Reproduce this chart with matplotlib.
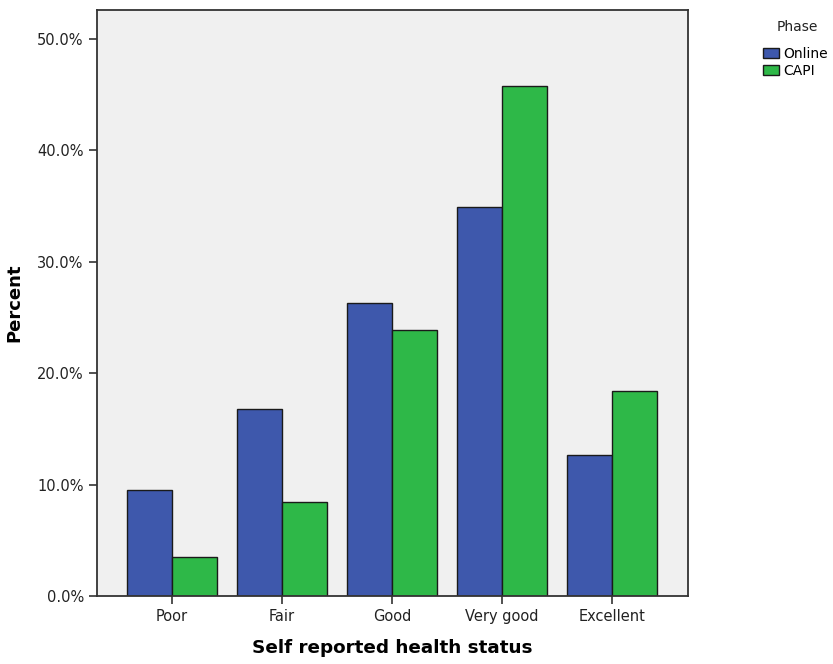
import matplotlib
matplotlib.use("Agg")
import matplotlib.pyplot as plt
import numpy as np
from matplotlib.ticker import FuncFormatter

categories = ["Poor", "Fair", "Good", "Very good", "Excellent"]
online = [9.5, 16.8, 26.3, 34.9, 12.7]
capi = [3.5, 8.4, 23.9, 45.8, 18.4]
series_names = ["Online", "CAPI"]
colors = ["#3e58ac", "#2eb848"]

fig = plt.figure(figsize=(8.33, 6.64), dpi=100)
ax = fig.add_axes([97/833, 68/664, (688-97)/833, (596-10)/664])
ax.set_facecolor("#f0f0f0")

x = np.arange(len(categories))
w = 0.41
b1 = ax.bar(x - w/2, online, w, color=colors[0], edgecolor="#1a1a1a", linewidth=1.0, label=series_names[0])
b2 = ax.bar(x + w/2, capi, w, color=colors[1], edgecolor="#1a1a1a", linewidth=1.0, label=series_names[1])

ax.set_xlim(-0.68, 4.69)
ax.set_ylim(0, 52.6)
ax.set_yticks([0, 10, 20, 30, 40, 50])
ax.yaxis.set_major_formatter(FuncFormatter(lambda v, p: f"{v:.1f}%"))
ax.set_xticks(x)
ax.set_xticklabels(categories)
ax.tick_params(axis="both", direction="out", length=6, width=1.2, color="#333333", labelsize=10.5, labelcolor="#222222")
for s in ax.spines.values():
    s.set_color("#333333")
    s.set_linewidth(1.3)

ax.set_xlabel("Self reported health status", fontsize=13.2, fontweight="bold", labelpad=11)
ax.set_ylabel("Percent", fontsize=13, fontweight="bold", labelpad=10)

fig.text(797/833, 1 - 27/664, "Phase", ha="center", va="center", fontsize=10, color="#222222")
leg = fig.legend(handles=[b1, b2], labels=series_names, loc="upper left",
                 bbox_to_anchor=(753/833, 1 - 37/664), frameon=False, fontsize=10,
                 handlelength=1.15, handleheight=0.75, handletextpad=0.3,
                 labelspacing=0.25, borderpad=0.2)

fig.savefig("out.png", dpi=100)
